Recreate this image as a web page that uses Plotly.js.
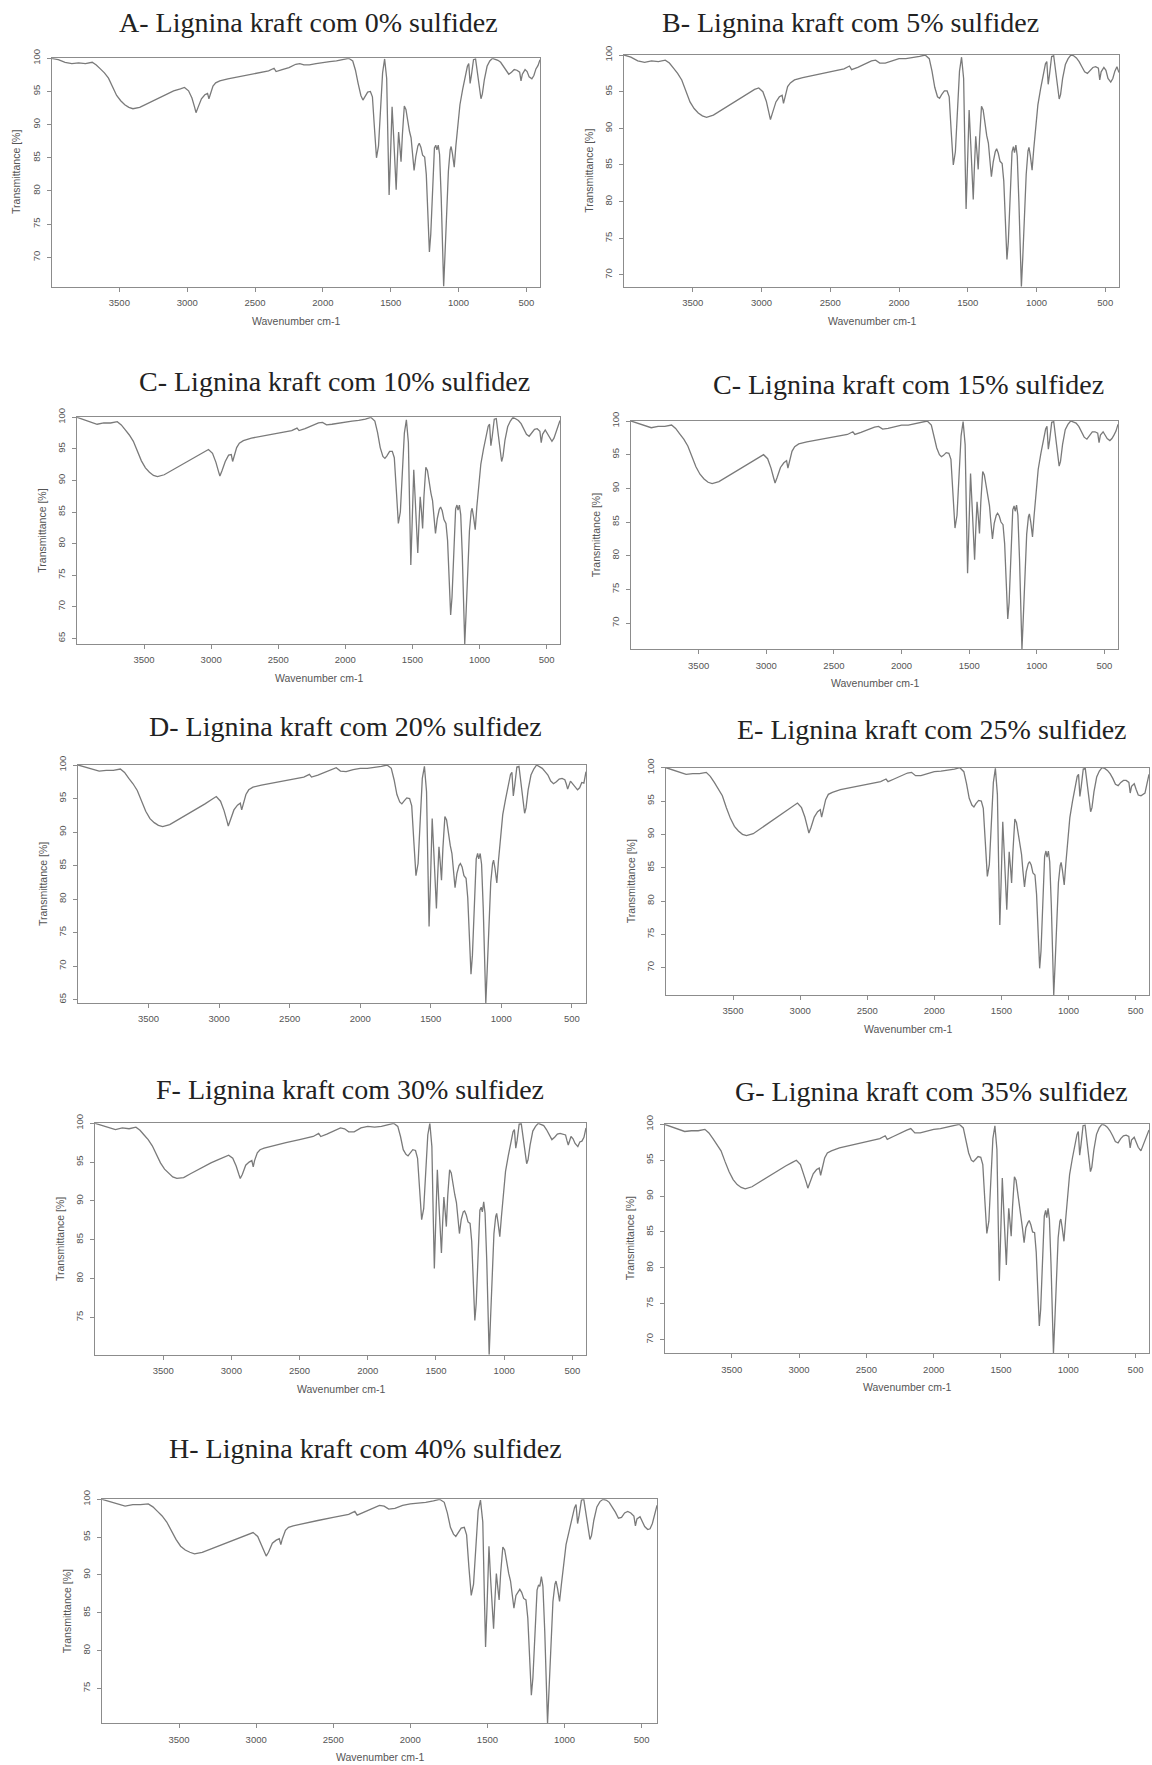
<!DOCTYPE html>
<html><head><meta charset="utf-8">
<script src="https://cdn.plot.ly/plotly-3.0.1.min.js"></script>
<style>html,body{margin:0;padding:0;background:#fff}#chart{width:1152px;height:1765px}</style>
</head><body><div id="chart"></div>
<script>
// Wavenumber grid (cm-1) shared by all spectra
const wavenumber = [
 4000,3950,3900,3850,3800,3750,3700,3670,3640,3610,3580,3550,3520,3490,3460,3430,3400,3350,3300,3250,3200,3150,3100,3050,3020,2990,2965,2945,2935,2920,2895,2870,2850,2840,2830,2810,2790,
 2760,2700,2600,2500,2400,2360,2345,2300,2250,2200,2170,2140,2100,2050,2000,1950,1900,1850,1810,1780,
 1760,1740,1720,1705,1690,1670,1650,1635,1620,1605,1590,1575,1560,1545,1530,1520,1512,1503,1490,1478,1468,1460,1452,1442,1432,1424,1414,1400,1388,1375,1362,1350,1340,1328,1315,1300,
 1290,1278,1265,1250,1238,1226,1215,1205,1192,1178,1168,1160,1150,1140,1128,1118,1110,1100,1088,1075,1062,1055,1045,1032,1020,1005,990,
 970,950,935,925,915,905,890,875,860,845,835,825,810,790,770,750,730,710,690,670,650,630,610,590,570,550,540,530,510,495,480,460,445,430,415,400];

// Transmittance (%)
const tA = [
 100,99.8,99.4,99.2,99.3,99.2,99.4,99.0,98.4,97.8,97.0,95.6,94.4,93.6,93.0,92.6,92.4,92.6,93.1,93.6,94.1,94.6,95.1,95.4,95.6,95.1,94.0,92.6,91.8,92.6,93.9,94.5,94.7,93.9,94.6,95.8,96.3,
 96.6,96.9,97.3,97.7,98.1,98.5,98.0,98.3,98.6,99.1,99.2,99.0,99.0,99.2,99.4,99.5,99.6,99.8,100,99.6,
 98.2,96.2,94.4,93.7,94.2,94.9,95.0,94.2,89.5,85.0,86.8,92.5,97.8,99.9,97.0,87.0,79.4,84.5,92.7,88.0,83.0,80.2,84.5,88.9,86.5,84.4,88.5,92.8,92.3,90.5,89.0,88.0,85.5,83.1,85.2,86.8,
 87.2,86.6,85.4,85.1,82.5,76.5,70.8,73.5,80.5,86.5,86.9,86.2,86.9,85.5,79.0,70.5,65.6,70.5,77.5,83.0,86.2,86.7,85.6,83.6,86.8,90.5,93.0,
 95.3,97.3,98.8,99.2,96.2,97.5,99.8,99.9,97.8,95.0,93.9,94.6,96.8,98.8,99.6,100,99.9,99.7,99.4,98.8,98.0,97.6,97.9,98.3,98.2,97.9,96.6,97.6,98.3,98.0,97.2,96.9,97.4,98.4,98.9,99.8];
const tB = [
 100,99.7,99.2,99.0,99.2,99.1,99.3,98.9,98.2,97.5,96.6,95.0,93.6,92.7,92.1,91.7,91.5,91.8,92.4,93.0,93.6,94.2,94.8,95.3,95.5,95.0,93.7,92.2,91.2,92.1,93.6,94.3,94.5,93.4,94.3,95.7,96.2,
 96.6,96.9,97.3,97.7,98.1,98.5,98.0,98.3,98.7,99.2,99.3,98.9,98.9,99.2,99.5,99.5,99.6,99.8,100,99.5,
 97.8,95.6,94.3,94.1,94.6,95.1,95.1,94.3,89.5,85.0,86.8,92.5,97.8,99.7,96.8,86.5,79.0,84.3,92.5,87.8,83.0,80.3,84.5,88.9,86.5,84.4,88.6,93.0,92.5,90.6,89.0,88.0,85.7,83.4,85.4,86.8,
 87.2,86.6,85.5,85.2,82.8,77.3,72.1,74.5,81.0,86.8,87.5,86.7,87.7,86.2,80.0,72.5,68.4,72.3,78.5,83.7,86.9,87.4,86.3,84.3,87.2,90.7,93.2,
 95.4,97.4,98.8,99.1,96.0,97.4,99.8,99.9,97.8,95.1,94.0,94.6,96.8,98.7,99.5,100,99.9,99.6,99.1,98.4,97.7,97.5,97.9,98.3,98.4,98.2,96.6,97.7,98.3,97.9,96.8,96.3,96.8,97.8,98.4,97.6];
const tC10 = [
 100,99.6,99.2,98.9,99.1,99.1,99.3,98.8,98.0,97.2,96.2,94.6,93.1,92.0,91.3,90.8,90.6,90.9,91.5,92.1,92.7,93.3,93.9,94.6,94.9,94.3,92.9,91.4,90.7,91.5,93.0,94.0,94.1,93.0,93.9,95.2,95.9,
 96.3,96.7,97.1,97.5,97.9,98.3,97.9,98.2,98.6,99.1,99.2,98.8,98.9,99.1,99.3,99.4,99.5,99.7,100,99.4,
 97.6,95.2,93.8,93.5,93.9,94.6,94.6,93.6,88.5,83.2,85.0,91.5,97.5,99.6,96.0,85.0,76.6,82.5,91.7,86.5,81.0,78.5,82.8,87.4,85.0,82.4,87.5,92.1,91.6,89.6,88.0,86.8,84.2,81.6,83.9,85.4,
 85.8,85.2,83.8,83.2,80.5,74.5,68.7,71.5,79.0,85.5,86.1,85.3,86.1,84.6,78.0,69.0,64.1,69.0,76.5,82.0,85.1,85.6,84.3,82.2,85.8,89.8,92.6,
 95.0,97.1,98.6,98.9,95.5,97.0,99.7,99.8,97.2,94.2,93.0,93.8,96.4,98.5,99.4,100,99.8,99.5,99.0,98.2,97.3,97.0,97.6,98.1,98.2,97.8,96.0,97.3,98.0,97.4,96.8,96.2,96.7,97.6,98.4,99.5];
const tC15 = [
 100,99.7,99.3,99.0,99.2,99.2,99.4,98.9,98.1,97.3,96.3,94.7,93.2,92.1,91.4,90.9,90.7,91.0,91.6,92.2,92.8,93.4,94.0,94.7,95.0,94.4,93.0,91.5,90.8,91.6,93.1,93.8,94.1,93.0,94.0,95.5,96.2,
 96.6,96.9,97.3,97.6,98.0,98.4,98.0,98.3,98.7,99.1,99.2,98.8,98.9,99.2,99.4,99.4,99.6,99.8,100,99.4,
 97.9,96.0,95.0,94.7,94.9,95.3,95.2,94.3,89.2,84.1,86.0,92.0,97.8,99.9,96.5,85.8,77.4,83.5,92.2,87.2,82.0,79.4,83.6,88.0,85.6,83.3,88.0,92.5,92.0,90.2,88.6,87.4,85.0,82.5,84.8,86.0,
 86.3,85.9,85.0,84.6,81.8,76.0,70.6,73.0,80.3,86.8,87.4,86.6,87.5,86.0,79.5,70.8,66.1,70.8,78.0,83.2,85.8,86.2,85.0,82.8,86.0,90.0,92.8,
 95.2,97.3,98.8,99.2,95.8,97.2,99.8,99.9,97.5,94.6,93.3,94.0,96.5,98.7,99.5,100,99.9,99.7,99.2,98.5,97.6,97.3,97.9,98.4,98.4,98.2,96.8,97.9,98.4,97.8,97.4,97.1,97.4,97.9,98.5,99.5];
const tD = [
 100,99.7,99.3,99.1,99.2,99.2,99.4,98.9,98.0,97.2,96.2,94.6,93.1,92.0,91.4,91.0,90.8,91.1,91.7,92.3,92.9,93.5,94.2,94.9,95.3,94.6,93.2,91.7,90.9,91.8,93.3,94.0,94.3,93.3,94.1,95.6,96.3,
 96.7,97.0,97.4,97.8,98.2,98.6,98.2,98.5,98.9,99.3,99.6,99.1,99.0,99.3,99.5,99.5,99.6,99.8,100,99.5,
 97.8,95.6,94.5,94.2,94.6,95.1,95.0,93.9,88.6,83.5,85.3,91.8,98.0,99.8,96.0,84.5,75.9,82.0,92.0,86.8,81.0,78.6,83.0,87.8,85.2,82.8,87.6,92.3,91.8,89.8,88.0,86.8,84.2,81.7,83.8,85.0,
 85.3,84.8,83.5,83.1,80.2,74.5,68.8,71.6,79.5,86.0,86.8,86.0,86.8,85.2,78.5,69.5,64.5,69.5,77.0,82.5,85.3,85.8,84.6,82.4,85.8,89.8,92.6,
 94.9,97.0,98.6,98.9,95.4,97.0,99.7,99.8,97.1,94.0,92.8,93.6,96.3,98.5,99.4,100,99.8,99.5,99.0,98.5,97.6,97.2,97.5,97.9,98.0,97.8,97.2,96.4,97.6,97.2,96.8,96.3,96.6,97.4,97.3,99.0];
const tE = [
 100,99.7,99.3,99.0,99.1,99.1,99.3,98.7,97.8,96.9,95.8,94.0,92.4,91.2,90.5,90.0,89.8,90.1,90.8,91.5,92.2,92.9,93.6,94.3,94.7,94.0,92.6,91.0,90.2,91.0,92.6,93.4,93.7,92.6,93.6,95.2,96.0,
 96.3,96.7,97.1,97.5,97.9,98.3,97.9,98.3,98.7,99.2,99.3,98.8,98.8,99.1,99.4,99.5,99.6,99.8,100,99.4,
 97.6,95.4,94.4,94.1,94.6,95.1,95.0,93.9,88.8,83.7,85.5,92.0,97.8,99.9,96.0,84.8,76.4,82.3,91.9,86.8,81.2,78.7,83.0,87.4,85.0,82.7,87.5,92.3,91.8,89.9,88.2,87.0,84.6,82.1,84.4,85.6,
 85.9,85.4,84.2,83.9,81.0,75.3,69.9,72.5,80.2,86.7,87.5,86.6,87.5,85.9,79.3,70.6,65.9,70.5,77.8,82.8,85.3,85.8,84.6,82.4,85.6,89.6,92.5,
 95.0,97.2,98.7,99.0,95.7,97.2,99.8,99.9,97.4,94.6,93.4,94.0,96.4,98.6,99.5,100,99.9,99.6,99.1,98.4,97.5,97.3,97.8,98.1,98.1,97.8,96.2,97.2,97.6,96.7,95.9,95.8,96.0,96.2,97.6,99.0];
const tF = [
 100,99.7,99.4,99.2,99.4,99.3,99.5,99.1,98.5,97.9,97.1,95.9,94.9,94.1,93.6,93.1,92.9,93.0,93.5,94.0,94.4,94.9,95.3,95.7,95.9,95.5,94.5,93.4,92.9,93.4,94.6,95.0,95.2,94.4,95.2,96.2,96.6,
 96.8,97.1,97.5,97.9,98.3,98.7,98.3,98.6,99.0,99.4,99.3,98.9,98.9,99.4,99.6,99.5,99.6,99.8,100,99.6,
 98.3,96.6,96.0,95.8,96.2,96.6,96.5,95.5,91.5,87.6,89.0,94.0,98.5,100,97.0,88.0,81.3,86.5,94.0,89.5,85.0,83.3,86.8,90.5,88.5,86.7,90.6,94.0,93.6,92.0,90.8,89.8,87.8,85.8,87.6,88.6,
 88.7,88.2,87.3,87.1,84.8,79.6,74.6,76.8,83.2,88.8,89.2,88.6,89.9,88.4,82.5,74.5,70.2,74.8,81.0,85.8,88.0,88.4,87.2,85.4,88.0,91.5,93.8,
 95.8,97.6,98.9,99.2,96.8,97.8,99.9,100,98.0,95.8,94.8,95.3,97.2,99.0,99.6,100,99.9,99.7,99.2,98.6,97.9,98.2,98.6,98.7,98.6,98.5,97.8,97.2,98.3,98.0,97.4,97.0,97.6,97.7,98.2,99.4];
const tG = [
 100,99.7,99.3,99.0,99.1,99.1,99.3,98.8,98.0,97.2,96.3,94.8,93.4,92.3,91.6,91.2,91.0,91.3,91.9,92.5,93.0,93.6,94.2,94.7,95.0,94.4,93.1,91.8,91.1,91.9,93.1,93.7,93.9,92.9,93.8,95.3,96.0,
 96.3,96.7,97.1,97.5,98.0,98.4,97.9,98.3,98.8,99.2,99.4,98.8,98.8,99.1,99.3,99.4,99.6,99.8,100,99.5,
 97.9,96.0,95.0,94.8,95.1,95.5,95.4,94.4,89.5,84.8,86.5,92.5,98.0,99.8,96.5,86.0,78.2,84.0,92.5,87.5,82.5,80.4,84.2,88.3,86.2,84.4,88.5,92.7,92.2,90.4,88.8,87.6,85.5,83.5,85.6,86.3,
 86.6,86.0,85.0,84.9,82.2,76.8,71.9,74.2,81.3,87.2,88.0,87.0,88.3,86.8,80.5,72.5,68.1,72.5,79.5,84.2,86.5,86.8,85.6,83.7,86.6,90.4,93.0,
 95.2,97.2,98.6,99.0,95.7,97.2,99.8,99.9,97.5,94.6,93.4,94.0,96.4,98.6,99.5,100,99.9,99.6,99.1,98.4,97.6,97.4,98.0,98.4,98.5,98.3,96.7,97.8,98.2,97.5,96.8,96.3,97.0,97.8,98.4,99.2];
const tH = [
 100,99.7,99.3,99.1,99.3,99.3,99.4,99.0,98.4,97.8,97.0,95.8,94.7,93.8,93.3,93.0,92.8,93.0,93.4,93.8,94.2,94.6,95.0,95.4,95.6,95.1,94.0,93.0,92.5,93.0,94.2,94.6,94.8,94.0,94.8,95.9,96.3,
 96.5,96.8,97.2,97.6,98.0,98.4,97.9,98.3,98.8,99.2,99.1,98.7,98.8,99.2,99.4,99.5,99.6,99.8,100,99.6,
 98.2,96.3,95.4,95.1,95.6,96.2,96.3,95.3,91.0,87.3,88.8,93.8,98.5,99.9,97.0,87.5,80.5,85.5,93.8,89.0,84.5,82.9,86.5,90.2,88.2,86.7,90.3,93.7,93.3,91.6,90.2,89.2,87.4,85.6,87.3,87.9,
 88.1,87.7,86.9,86.7,84.3,79.0,74.1,76.4,82.6,88.0,88.7,88.5,89.8,88.5,82.5,74.8,70.4,75.0,81.5,86.5,88.8,89.2,88.2,86.5,88.8,91.8,94.0,
 95.8,97.6,98.9,99.3,96.8,97.9,99.9,100,98.0,95.8,94.7,95.2,97.2,99.0,99.7,100,99.9,99.6,99.0,98.3,97.5,97.6,98.2,98.4,98.2,97.8,96.5,97.4,97.7,97.0,96.4,96.0,96.1,96.8,98.0,99.2];

const panelTitles = [
 "A- Lignina kraft com 0% sulfidez", "B- Lignina kraft com 5% sulfidez",
 "C- Lignina kraft com 10% sulfidez", "C- Lignina kraft com 15% sulfidez",
 "D- Lignina kraft com 20% sulfidez", "E- Lignina kraft com 25% sulfidez",
 "F- Lignina kraft com 30% sulfidez", "G- Lignina kraft com 35% sulfidez",
 "H- Lignina kraft com 40% sulfidez"];
const xTickVals = [3500, 3000, 2500, 2000, 1500, 1000, 500];
const xTickText = ["3500", "3000", "2500", "2000", "1500", "1000", "500"];
const xTitle = "Wavenumber cm-1";
const yTitle = "Transmittance [%]";
const series = [tA, tB, tC10, tC15, tD, tE, tF, tG, tH];

// Layout geometry (pixels): left, right, top, bottom of each plot box; title centre
const W = 1152, H = 1765;
const boxes = [
 {l:51.5, r:540,  t:58.3,  b:286.5,  tx:308, ty:23,   xt:true},
 {l:624,  r:1119, t:55,    b:286.7,  tx:850, ty:23,   xt:true},
 {l:77,   r:560,  t:417.3, b:644,    tx:334, ty:382,  xt:true},
 {l:631,  r:1118, t:421,   b:649.3,  tx:908, ty:384,  xt:true},
 {l:78,   r:586,  t:765,   b:1003,   tx:345, ty:726,  xt:false},
 {l:666,  r:1149, t:767.7, b:995,    tx:932, ty:729,  xt:true},
 {l:95,   r:586,  t:1123.3,b:1354.7, tx:350, ty:1089, xt:true},
 {l:664.5,r:1149, t:1124.3,b:1353.3, tx:931, ty:1091, xt:true},
 {l:102,  r:657,  t:1499.3,b:1723.3, tx:365, ty:1448, xt:true}
];
const px = x => x / W, py = y => 1 - y / H;
const axisColor = '#8c8c8c';
const tickFont = {family: 'Liberation Sans, Arial, sans-serif', size: 9.5, color: '#555'};

const data = [], annotations = [];
const layout = {
 width: W, height: H, margin: {l:0, r:0, t:0, b:0},
 paper_bgcolor: '#fff', plot_bgcolor: '#fff', showlegend: false
};
series.forEach((vals, i) => {
 const n = i === 0 ? '' : String(i + 1);
 const bx = boxes[i];
 const ymin = Math.min(...vals);
 data.push({x: wavenumber, y: vals, type: 'scatter', mode: 'lines',
   xaxis: 'x' + n, yaxis: 'y' + n, line: {color: '#7a7a7a', width: 1.3}, hoverinfo: 'skip'});
 layout['xaxis' + n] = {
   domain: [px(bx.l), px(bx.r)], anchor: 'y' + n, range: [4000, 400],
   showline: true, mirror: true, linecolor: axisColor, linewidth: 1,
   ticks: 'outside', ticklen: 4, tickcolor: axisColor, tickwidth: 1,
   tickvals: xTickVals, ticktext: xTickText, tickfont: tickFont, ticklabelstandoff: 3,
   showgrid: false, zeroline: false, fixedrange: true
 };
 layout['yaxis' + n] = {
   domain: [py(bx.b), py(bx.t)], anchor: 'x' + n, range: [ymin, 100],
   showline: true, mirror: true, linecolor: axisColor, linewidth: 1,
   ticks: 'outside', ticklen: 4, tickcolor: axisColor, tickwidth: 1,
   tick0: 0, dtick: 5, tickangle: -90, tickfont: tickFont, ticklabelstandoff: 3,
   showgrid: false, zeroline: false, fixedrange: true
 };
 annotations.push({text: panelTitles[i], xref: 'paper', yref: 'paper', x: px(bx.tx), y: py(bx.ty),
   xanchor: 'center', yanchor: 'middle', showarrow: false,
   font: {family: 'Liberation Serif, Times New Roman, serif', size: 28, color: '#222'}});
 if (bx.xt) annotations.push({text: xTitle, xref: 'paper', yref: 'paper', x: px((bx.l + bx.r) / 2), y: py(bx.b + 34),
   xanchor: 'center', yanchor: 'middle', showarrow: false,
   font: {family: 'Liberation Sans, Arial, sans-serif', size: 10.5, color: '#555'}});
 annotations.push({text: yTitle, xref: 'paper', yref: 'paper', x: px(bx.l - 35), y: py((bx.t + bx.b) / 2),
   xanchor: 'center', yanchor: 'middle', textangle: -90, showarrow: false,
   font: {family: 'Liberation Sans, Arial, sans-serif', size: 10.5, color: '#555'}});
});
layout.annotations = annotations;
Plotly.newPlot('chart', data, layout, {staticPlot: true, displayModeBar: false});
</script>
</body></html>
